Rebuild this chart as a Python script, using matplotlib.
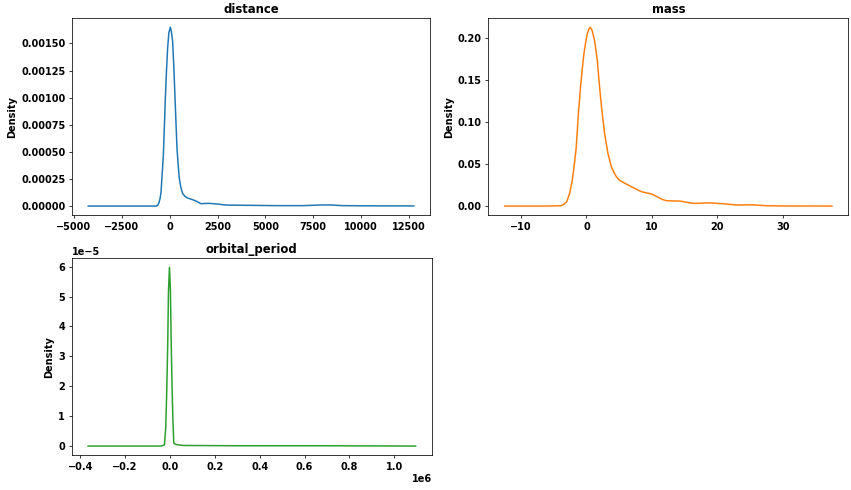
import matplotlib.pyplot as plt

# density curves (x, density)
distance_x = [-4250, -1500, -720, -625, -560, -500, -448, -390, -328, -276, -224,
              -164, -104, -40, 36, 90, 156, 220, 281, 333, 385, 445, 505, 590,
              677, 800, 937, 1100, 1286, 1450, 1635, 1850, 2068, 2588, 2937,
              4000, 5500, 7000, 7600, 7950, 8450, 9000, 10500, 12749]
distance_y = [0.0, 0.0, 0.0, 0.000005, 0.00003, 0.00007, 0.00013, 0.00030,
              0.00047, 0.00073, 0.000997, 0.00125, 0.00146, 0.00160, 0.00165,
              0.00161, 0.00152, 0.00128, 0.000997, 0.00076, 0.00053, 0.00038,
              0.000254, 0.00017, 0.000115, 0.00009, 0.000074, 0.000065, 0.000053,
              0.00004, 0.000022, 0.000024, 0.000025, 0.000017, 0.0000093,
              0.000007, 0.000004, 0.000004, 0.000008, 0.00001, 0.00001, 0.000004,
              0.000002, 0.000001]

mass_x = [-12.49, -6.0, -3.9, -3.5, -3.03, -2.6, -2.2, -1.9, -1.58, -1.23, -0.92,
          -0.65, -0.4, -0.15, 0.1, 0.35, 0.57, 0.85, 1.23, 1.65, 2.0, 2.35, 2.77,
          3.28, 3.8, 4.2, 4.57, 5.0, 5.6, 6.88, 8.42, 9.95, 10.97, 11.6, 12.26,
          14.3, 15.3, 16.35, 17.5, 18.66, 20.97, 23.0, 25.1, 27.6, 30.0, 37.49]
mass_y = [0.0, 0.0, 0.0004, 0.0018, 0.005, 0.014, 0.029, 0.046, 0.068, 0.110,
          0.140, 0.162, 0.180, 0.193, 0.204, 0.210, 0.2124, 0.209, 0.197, 0.1735,
          0.1418, 0.114, 0.0864, 0.0626, 0.0467, 0.040, 0.0348, 0.031, 0.0281,
          0.0229, 0.017, 0.0143, 0.0103, 0.0078, 0.0063, 0.0059, 0.0045, 0.0032,
          0.0034, 0.0039, 0.0027, 0.0012, 0.0015, 0.0004, 0.0001, 0.0]

orbital_x = [-365000, -40000, -24600, -19000, -14300, -9800, -6700, -2200, 2200,
             5400, 9800, 13500, 17000, 22000, 27700, 60000, 300000, 700000, 1095000]
orbital_y = [0.0, 0.0, 0.04e-5, 0.6e-5, 1.83e-5, 3.5e-5, 5.17e-5, 5.98e-5, 5.17e-5,
             3.5e-5, 1.83e-5, 0.8e-5, 0.1e-5, 0.07e-5, 0.05e-5, 0.02e-5, 0.01e-5,
             0.01e-5, 0.0]

plt.rcParams['font.family'] = ['DejaVu Sans']
plt.rcParams['font.weight'] = 'bold'
plt.rcParams['font.size'] = 10.3
plt.rcParams['axes.titlesize'] = 12.3
plt.rcParams['axes.titleweight'] = 'bold'
plt.rcParams['axes.labelweight'] = 'bold'

dpi = 68
fig = plt.figure(figsize=(851 / dpi, 490 / dpi), dpi=dpi)

ax1 = fig.add_axes([72 / 851, 1 - 215 / 490, 358 / 851, 196.7 / 490])
ax2 = fig.add_axes([488.3 / 851, 1 - 215 / 490, 360 / 851, 196.7 / 490])
ax3 = fig.add_axes([71.7 / 851, 1 - 455 / 490, 360.3 / 851, 196.7 / 490])

panels = [
    (ax1, distance_x, distance_y, 'C0', 'distance'),
    (ax2, mass_x, mass_y, 'C1', 'mass'),
    (ax3, orbital_x, orbital_y, 'C2', 'orbital_period'),
]
for ax, xs, ys, color, name in panels:
    ax.plot(xs, ys, color=color, linewidth=1.6)
    ax.set_title(name)
    ax.set_ylabel('Density')

fig.savefig('out.png', dpi=dpi)
